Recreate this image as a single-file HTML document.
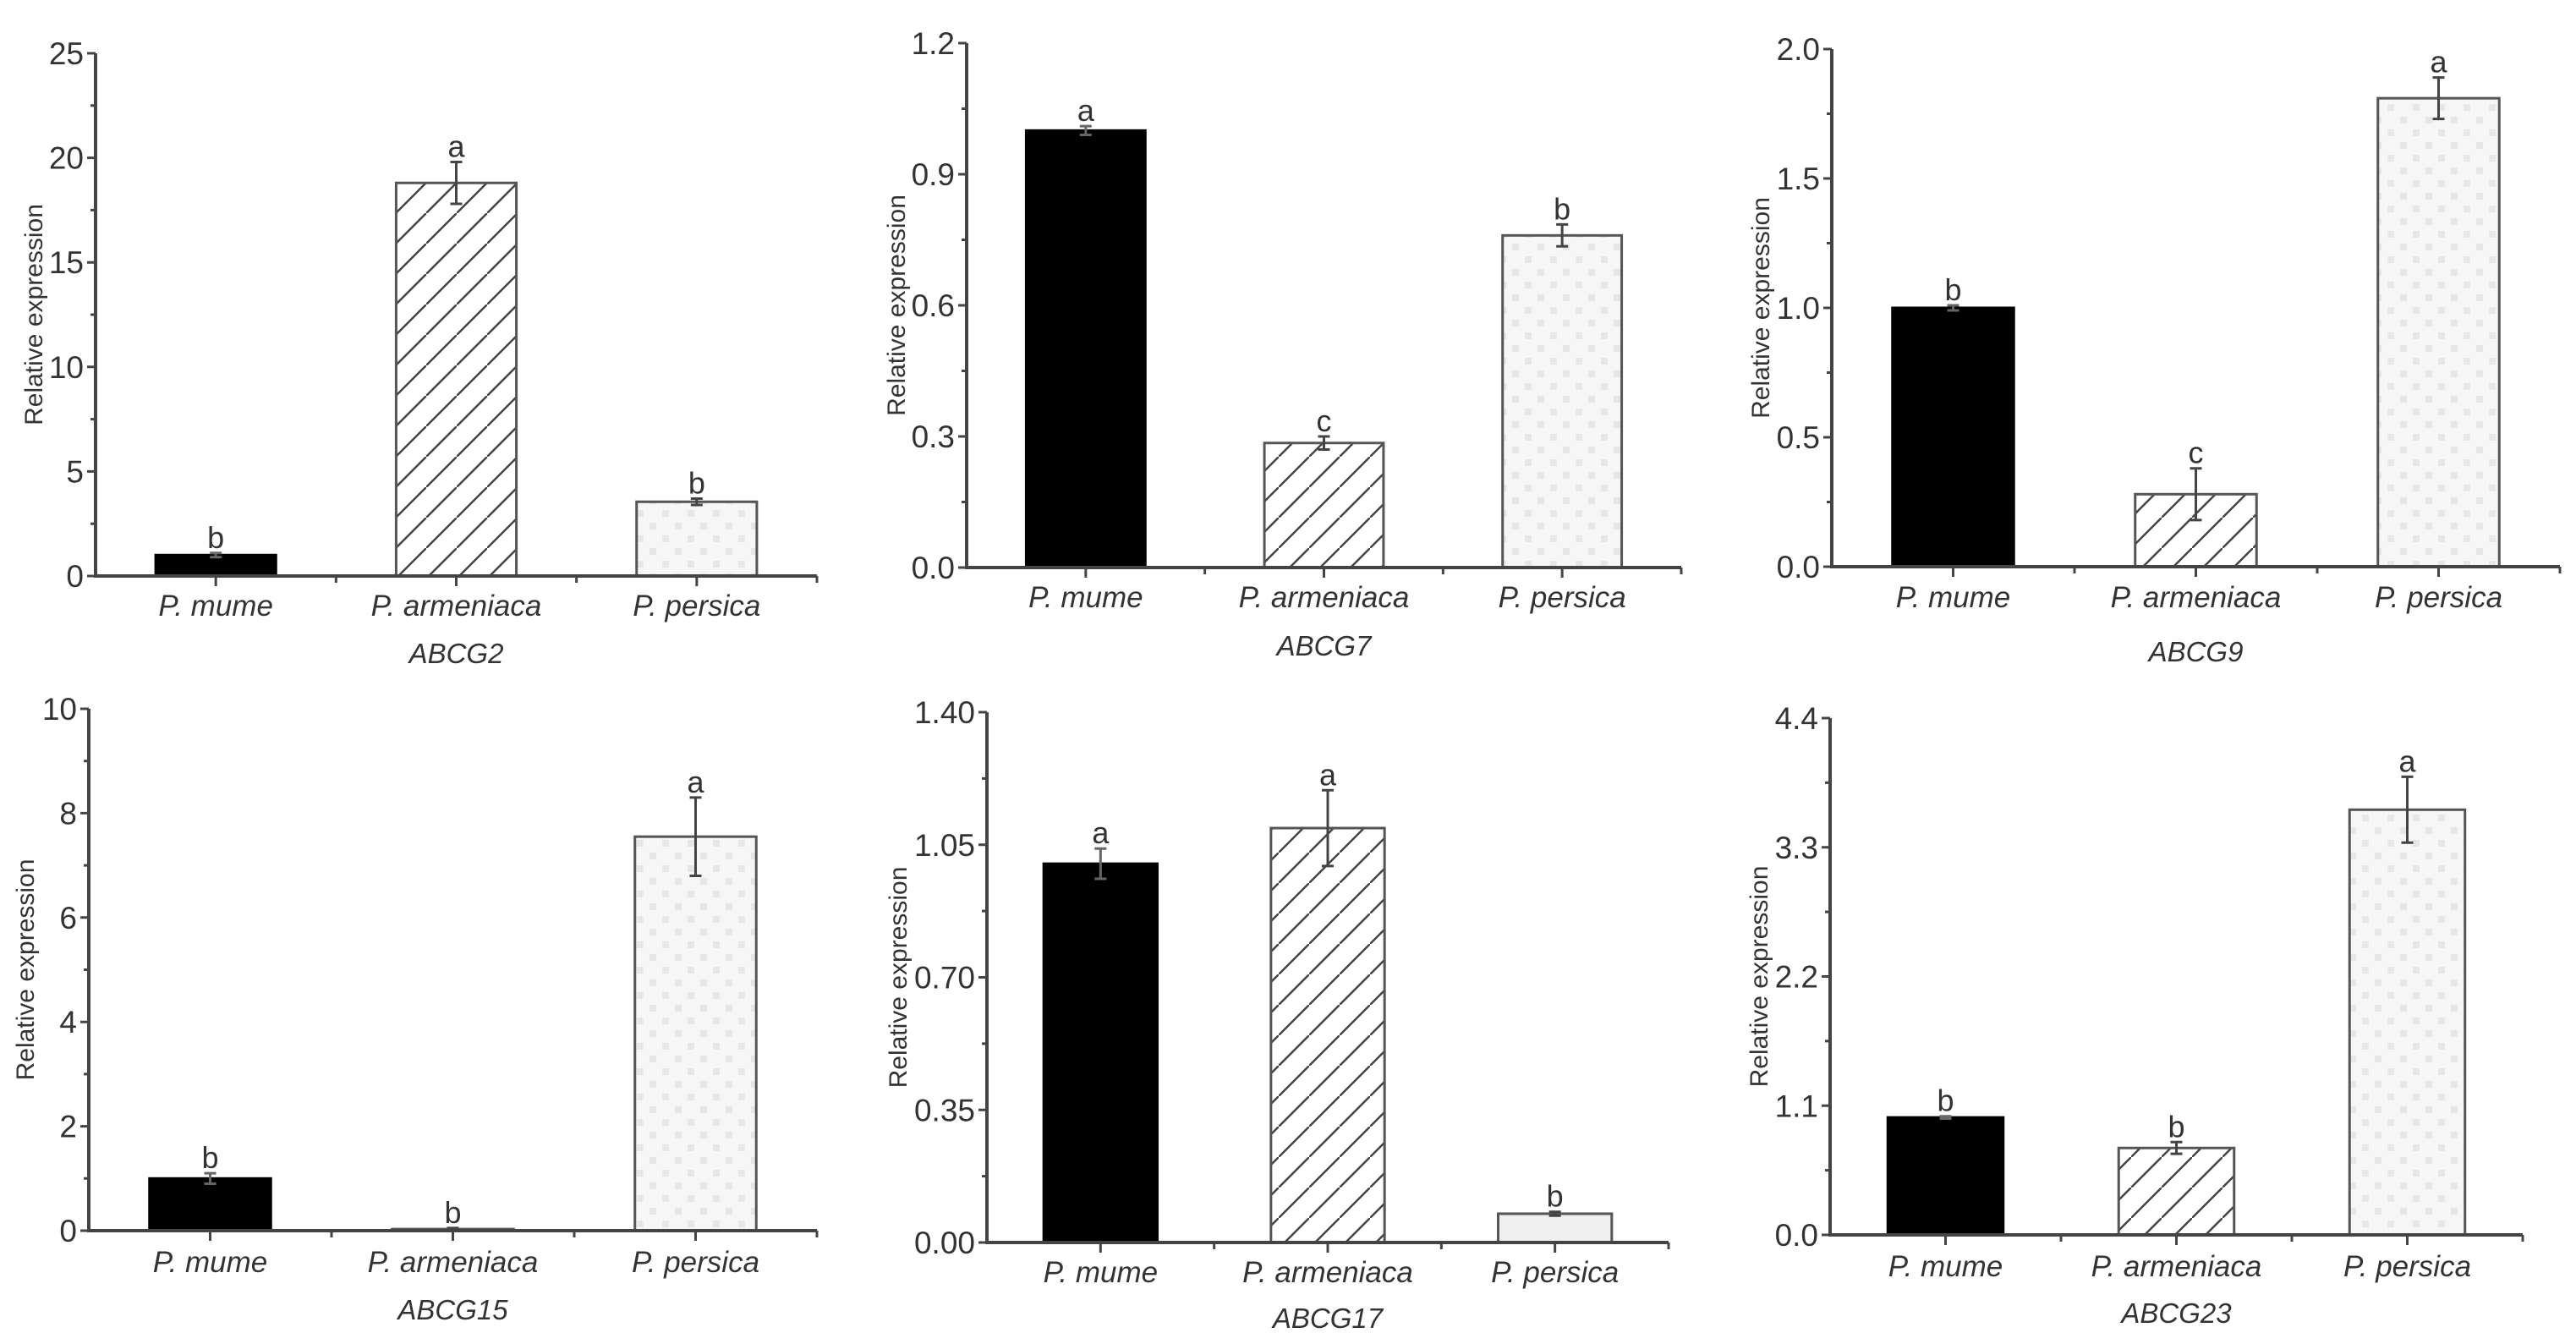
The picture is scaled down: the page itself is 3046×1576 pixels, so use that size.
<!DOCTYPE html>
<html><head><meta charset="utf-8">
<style>
html,body{margin:0;padding:0;background:#fff;}
svg{display:block;}
text{font-family:"Liberation Sans",Arial,sans-serif;fill:#333;}
</style></head>
<body>
<svg id="fig" width="3046" height="1576" viewBox="0 0 3046 1576" xmlns="http://www.w3.org/2000/svg">
<defs>
<pattern id="hatch" patternUnits="userSpaceOnUse" width="36" height="36">
<line x1="-4" y1="40" x2="40" y2="-4" stroke="#444" stroke-width="2.5"/>
</pattern>
<pattern id="check" patternUnits="userSpaceOnUse" width="30" height="30">
<rect width="30" height="30" fill="#f6f6f6"/>
<rect x="3" y="3" width="8" height="8" fill="#e6e6e6"/>
<rect x="18" y="18" width="8" height="8" fill="#e6e6e6"/>
</pattern>
</defs>
</svg>
<script>
const genes = ["ABCG2","ABCG7","ABCG9","ABCG15","ABCG17","ABCG23"];
const categories = ["P. mume","P. armeniaca","P. persica"];
const means = [[1.0,18.8,3.55],[1.0,0.285,0.76],[1.0,0.28,1.81],[1.0,0.03,7.55],[1.0,1.094,0.076],[1.0,0.74,3.62]];
const errors = [[0.1,1.0,0.15],[0.01,0.015,0.025],[0.01,0.1,0.08],[0.1,0.02,0.75],[0.04,0.1,0.005],[0.01,0.05,0.28]];
const letters = [["b","a","b"],["a","c","b"],["b","c","a"],["b","b","a"],["a","a","b"],["b","b","a"]];
const yMaxes = [25,1.2,2.0,10,1.4,4.4];
const yTickLabels = [["0","5","10","15","20","25"],["0.0","0.3","0.6","0.9","1.2"],["0.0","0.5","1.0","1.5","2.0"],["0","2","4","6","8","10"],["0.00","0.35","0.70","1.05","1.40"],["0.0","1.1","2.2","3.3","4.4"]];

// layout (pixels): x0, x1, yTop, yZero, yTitleX, labelY, geneY
const layout = [
 [113,966,63,681,40,716,772],
 [1143,1988,51,671,1060,706,763],
 [2166,3027,58,670,2082,706,770],
 [105,966,838,1455,30,1492,1548],
 [1167,1973,842,1469,1062,1504,1558],
 [2164,2983,849,1460,2080,1497,1552]
];
const fills = ["#000","url(#hatch)","url(#check)"];
const NS = "http://www.w3.org/2000/svg";
const svg = document.getElementById("fig");
function mk(tag, attrs, parent){const e=document.createElementNS(NS,tag);for(const k in attrs)e.setAttribute(k,attrs[k]);(parent||svg).appendChild(e);return e;}

genes.forEach((g,p)=>{
  const [x0,x1,yT,yZ,tX,lY,gY]=layout[p];
  const grp=mk("g",{});
  
  
  const span=x1-x0;
  const ys=v=>yZ-(v/yMaxes[p])*(yZ-yT);
  const xc=i=>x0+span*(2*i+1)/6;
  const bw=span/6;
  // bars
  categories.forEach((c,i)=>{
    let fill=fills[i];
    if(p===4&&i===2) fill="#efefef";
    const r=mk("rect",{x:xc(i)-bw/2,y:ys(means[p][i]),width:bw,height:yZ-ys(means[p][i]),fill:fill,stroke:i===0?"#000":"#555","stroke-width":3},grp);
    
    
    const top=ys(means[p][i]+errors[p][i]), bot=ys(Math.max(0,means[p][i]-errors[p][i]));
    const eb=mk("path",{d:`M${xc(i)},${top}V${bot}M${xc(i)-7},${top}H${xc(i)+7}M${xc(i)-7},${bot}H${xc(i)+7}`,stroke:i===0?"#666":"#444","stroke-width":3,fill:"none"},grp);
    
    
    const lt=mk("text",{x:xc(i),y:top-6,"text-anchor":"middle","font-size":36},grp);
    lt.textContent=letters[p][i];
    
    
    const xl=mk("text",{x:xc(i),y:lY+12,"text-anchor":"middle","font-size":35,"font-style":"italic"},grp);
    xl.textContent=c;
    
    
  });
  // axes
  const ax=mk("path",{d:`M${x0},${yT}V${yZ}H${x1}`,stroke:"#444","stroke-width":4,fill:"none"},grp);
  
  
  let td="";
  for(let i=0;i<3;i++) td+=`M${xc(i)},${yZ}v12`;
  for(let i=1;i<=3;i++) td+=`M${x0+span*i/3},${yZ}v8`;
  const n=yTickLabels[p].length-1;
  for(let k=0;k<=n;k++){
    const v=yMaxes[p]*k/n;
    td+=`M${x0},${ys(v)}h-10`;
    if(k<n) td+=`M${x0},${ys(v+yMaxes[p]/n/2)}h-6`;
    const tl=mk("text",{x:x0-14,y:ys(v)+13,"text-anchor":"end","font-size":37},grp);
    tl.textContent=yTickLabels[p][k];
    
    
  }
  const tk=mk("path",{d:td,stroke:"#444","stroke-width":3,fill:"none"},grp);
  
  
  const yt=mk("text",{x:tX,y:(yT+yZ)/2,"text-anchor":"middle","font-size":30,transform:`rotate(-90 ${tX} ${(yT+yZ)/2})`,dy:10},grp);
  yt.textContent="Relative expression";
  
  
  const gt=mk("text",{x:(x0+x1)/2,y:gY+12,"text-anchor":"middle","font-size":33,"font-style":"italic"},grp);
  gt.textContent=g;
  
  
});
</script>
</body></html>
